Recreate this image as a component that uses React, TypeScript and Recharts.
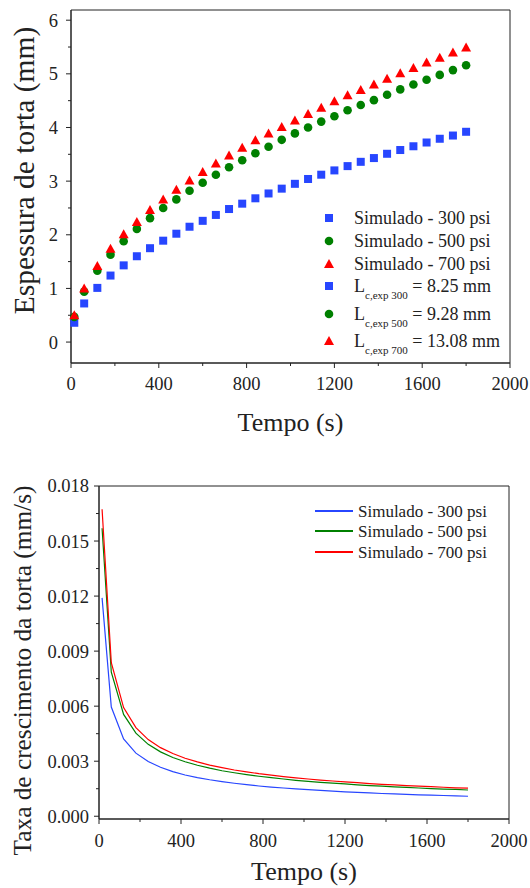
import React from "react";
import {
  ScatterChart,
  Scatter,
  LineChart,
  Line,
  XAxis,
  YAxis,
  ReferenceArea,
} from "recharts";

const FONT = "'Liberation Serif', 'Times New Roman', serif";
const INK = "#222";

// time (s) of every simulated point
const times = [
  15, 60, 120, 180, 240, 300, 360, 420, 480, 540, 600, 660, 720, 780, 840, 900,
  960, 1020, 1080, 1140, 1200, 1260, 1320, 1380, 1440, 1500, 1560, 1620, 1680,
  1740, 1800,
];

// cake thickness (mm)
const thick300 = [
  0.36, 0.72, 1.01, 1.24, 1.43, 1.6, 1.75, 1.89, 2.02, 2.15, 2.26, 2.37, 2.48,
  2.58, 2.68, 2.77, 2.86, 2.95, 3.04, 3.12, 3.2, 3.28, 3.36, 3.43, 3.51, 3.58,
  3.65, 3.72, 3.79, 3.85, 3.92,
];
const thick500 = [
  0.47, 0.94, 1.33, 1.63, 1.88, 2.11, 2.31, 2.5, 2.66, 2.82, 2.97, 3.12, 3.26,
  3.39, 3.52, 3.64, 3.77, 3.89, 4.0, 4.11, 4.21, 4.32, 4.42, 4.51, 4.61, 4.71,
  4.8, 4.89, 4.98, 5.07, 5.16,
];
const thick700 = [
  0.5, 1.0, 1.42, 1.74, 2.01, 2.24, 2.46, 2.66, 2.84, 3.01, 3.17, 3.33, 3.48,
  3.62, 3.76, 3.89, 4.01, 4.13, 4.25, 4.37, 4.49, 4.6, 4.7, 4.8, 4.91, 5.01,
  5.11, 5.21, 5.3, 5.4, 5.49,
];

// growth rate (mm/s)
const rate300 = [
  0.0119, 0.00595, 0.00421, 0.00344, 0.00298, 0.00267, 0.00243, 0.00225,
  0.00211, 0.00199, 0.00189, 0.0018, 0.00172, 0.00165, 0.00159, 0.00154,
  0.00149, 0.00145, 0.00141, 0.00137, 0.00133, 0.0013, 0.00127, 0.00124,
  0.00122, 0.00119, 0.00117, 0.00115, 0.00113, 0.00111, 0.00109,
];
const rate500 = [
  0.0157, 0.00785, 0.00555, 0.00453, 0.00392, 0.00351, 0.0032, 0.00297,
  0.00278, 0.00262, 0.00248, 0.00237, 0.00227, 0.00218, 0.0021, 0.00203,
  0.00196, 0.0019, 0.00185, 0.0018, 0.00176, 0.00171, 0.00167, 0.00164,
  0.0016, 0.00157, 0.00154, 0.00151, 0.00148, 0.00146, 0.00143,
];
const rate700 = [
  0.01673, 0.00837, 0.00592, 0.00483, 0.00418, 0.00374, 0.00342, 0.00316,
  0.00296, 0.00279, 0.00265, 0.00252, 0.00242, 0.00232, 0.00224, 0.00216,
  0.00209, 0.00203, 0.00197, 0.00192, 0.00187, 0.00183, 0.00178, 0.00174,
  0.00171, 0.00167, 0.00164, 0.00161, 0.00158, 0.00155, 0.00153,
];

const xMajor = [0, 400, 800, 1200, 1600, 2000];
const xMinor = [200, 600, 1000, 1400, 1800];
const yMajorTop = [0, 1, 2, 3, 4, 5, 6];
const yMinorTop = [0.5, 1.5, 2.5, 3.5, 4.5, 5.5];
const yMajorBot = [0, 0.003, 0.006, 0.009, 0.012, 0.015, 0.018];
const yMinorBot = [0.0015, 0.0045, 0.0075, 0.0105, 0.0135, 0.0165];

const BLUE = "#2746ff";
const GREEN = "#008000";
const RED = "#ff0000";

const pts = (vals: number[]) => times.map((t, i) => ({ t, v: vals[i] }));
const rateRows = times.map((t, i) => ({
  t,
  r300: rate300[i],
  r500: rate500[i],
  r700: rate700[i],
}));

const Square = ({ cx, cy }: any) => (
  <rect x={cx - 4} y={cy - 4} width={8} height={8} fill={BLUE} />
);
const Dot = ({ cx, cy }: any) => <circle cx={cx} cy={cy} r={4.3} fill={GREEN} />;
const Tri = ({ cx, cy }: any) => (
  <polygon
    points={`${cx},${cy - 5} ${cx + 5},${cy + 4} ${cx - 5},${cy + 4}`}
    fill={RED}
  />
);

function makeXTick(gap: number) {
  return ({ x, y, payload }: any) => {
    const major = xMajor.includes(payload.value);
    return (
      <g>
        <line x1={x} x2={x} y1={y} y2={y + (major ? 5 : 3)} stroke={INK} />
        {major && (
          <text
            x={x}
            y={y + gap}
            textAnchor="middle"
            dy="0.35em"
            fontSize={18.5}
            fontFamily={FONT}
            fill={INK}
          >
            {payload.value}
          </text>
        )}
      </g>
    );
  };
}

function makeYTick(majors: number[], fmt: (v: number) => string, gap: number) {
  return ({ x, y, payload }: any) => {
    const major = majors.some((m) => Math.abs(m - payload.value) < 1e-9);
    return (
      <g>
        <line x1={x} x2={x - (major ? 5 : 3)} y1={y} y2={y} stroke={INK} />
        {major && (
          <text
            x={x - gap}
            y={y}
            textAnchor="end"
            dy="0.35em"
            fontSize={18.5}
            fontFamily={FONT}
            fill={INK}
          >
            {fmt(payload.value)}
          </text>
        )}
      </g>
    );
  };
}

const Mark = ({ kind }: { kind: string }) => (
  <svg width={12} height={12} style={{ position: "absolute", left: -6, top: -6 }}>
    {kind === "sq" && <rect x={2} y={2} width={8} height={8} fill={BLUE} />}
    {kind === "ci" && <circle cx={6} cy={6} r={4.3} fill={GREEN} />}
    {kind === "tr" && <polygon points="6,1 11,10 1,10" fill={RED} />}
  </svg>
);

const topLegend = [
  { kind: "sq", y: 218, main: "Simulado - 300 psi" },
  { kind: "ci", y: 241, main: "Simulado - 500 psi" },
  { kind: "tr", y: 264, main: "Simulado - 700 psi" },
  { kind: "sq", y: 286, sub: "c,exp 300", rest: " = 8.25 mm" },
  { kind: "ci", y: 314, sub: "c,exp 500", rest: " = 9.28 mm" },
  { kind: "tr", y: 341, sub: "c,exp 700", rest: " = 13.08 mm" },
];

const botLegend = [
  { color: BLUE, y: 511, label: "Simulado - 300 psi" },
  { color: GREEN, y: 531, label: "Simulado - 500 psi" },
  { color: RED, y: 552, label: "Simulado - 700 psi" },
];

export default function App() {
  return (
    <div
      style={{
        position: "absolute",
        left: 0,
        top: 0,
        width: 530,
        height: 888,
        background: "#fff",
        fontFamily: FONT,
        color: INK,
      }}
    >
      <div style={{ position: "absolute", left: 0, top: 0 }}>
        <ScatterChart
          width={530}
          height={440}
          margin={{ top: 10, right: 20, left: 0, bottom: 0 }}
        >
          <XAxis
            type="number"
            dataKey="t"
            domain={[0, 2000]}
            ticks={[...xMajor, ...xMinor].sort((a, b) => a - b)}
            tickSize={0}
            tickMargin={0}
            tickLine={false}
            height={77}
            stroke={INK}
            tick={makeXTick(21)}
            label={{
              value: "Tempo (s)",
              position: "insideBottom",
              offset: 9,
              fontSize: 26,
              fontFamily: FONT,
              fill: INK,
            }}
          />
          <YAxis
            type="number"
            dataKey="v"
            domain={[-0.39, 6.19]}
            ticks={[...yMajorTop, ...yMinorTop].sort((a, b) => a - b)}
            tickSize={0}
            tickMargin={0}
            tickLine={false}
            width={71}
            stroke={INK}
            tick={makeYTick(yMajorTop, (v) => String(v), 13)}
            label={{
              value: "Espessura de torta (mm)",
              angle: -90,
              position: "insideLeft",
              offset: 24,
              dy: -16,
              fontSize: 29.5,
              fontFamily: FONT,
              fill: INK,
              style: { textAnchor: "middle" },
            }}
          />
          <ReferenceArea
            x1={0}
            x2={2000}
            y1={-0.39}
            y2={6.19}
            fill="none"
            stroke={INK}
            ifOverflow="visible"
          />
          <Scatter data={pts(thick300)} shape={Square} isAnimationActive={false} />
          <Scatter data={pts(thick500)} shape={Dot} isAnimationActive={false} />
          <Scatter data={pts(thick700)} shape={Tri} isAnimationActive={false} />
        </ScatterChart>
      </div>

      {topLegend.map((row, i) => (
        <div key={i}>
          <div style={{ position: "absolute", left: 329, top: row.y }}>
            <Mark kind={row.kind} />
          </div>
          <div
            style={{
              position: "absolute",
              left: 354,
              top: row.y - 9,
              fontSize: 18,
              lineHeight: "18px",
              whiteSpace: "nowrap",
            }}
          >
            {row.main ? (
              row.main
            ) : (
              <>
                L
                <span
                  style={{
                    fontSize: 11,
                    verticalAlign: -7,
                    lineHeight: 0,
                  }}
                >
                  {row.sub}
                </span>
                {row.rest}
              </>
            )}
          </div>
        </div>
      ))}

      <div style={{ position: "absolute", left: 0, top: 448 }}>
        <LineChart
          width={530}
          height={440}
          data={rateRows}
          margin={{ top: 38, right: 21, left: 0, bottom: 0 }}
        >
          <XAxis
            type="number"
            dataKey="t"
            domain={[0, 2000]}
            ticks={[...xMajor, ...xMinor].sort((a, b) => a - b)}
            tickSize={0}
            tickMargin={0}
            tickLine={false}
            height={69}
            stroke={INK}
            tick={makeXTick(22)}
            label={{
              value: "Tempo (s)",
              position: "insideBottom",
              offset: 8,
              fontSize: 26,
              fontFamily: FONT,
              fill: INK,
            }}
          />
          <YAxis
            type="number"
            domain={[-0.00015, 0.018]}
            ticks={[...yMajorBot, ...yMinorBot].sort((a, b) => a - b)}
            tickSize={0}
            tickMargin={0}
            tickLine={false}
            width={99}
            stroke={INK}
            tick={makeYTick(yMajorBot, (v) => v.toFixed(3), 10)}
            label={{
              value: "Taxa de crescimento da torta (mm/s)",
              angle: -90,
              position: "insideLeft",
              offset: 22,
              dy: 18,
              fontSize: 25.3,
              fontFamily: FONT,
              fill: INK,
              style: { textAnchor: "middle" },
            }}
          />
          <ReferenceArea
            x1={0}
            x2={2000}
            y1={-0.00015}
            y2={0.018}
            fill="none"
            stroke={INK}
            ifOverflow="visible"
          />
          <Line dataKey="r300" stroke={BLUE} strokeWidth={1.2} dot={false} isAnimationActive={false} />
          <Line dataKey="r500" stroke={GREEN} strokeWidth={1.2} dot={false} isAnimationActive={false} />
          <Line dataKey="r700" stroke={RED} strokeWidth={1.2} dot={false} isAnimationActive={false} />
        </LineChart>
      </div>

      {botLegend.map((row, i) => (
        <div key={i}>
          <div
            style={{
              position: "absolute",
              left: 315,
              top: row.y - 0.6,
              width: 38,
              height: 1.2,
              background: row.color,
            }}
          />
          <div
            style={{
              position: "absolute",
              left: 358,
              top: row.y - 8.5,
              fontSize: 17,
              lineHeight: "17px",
              whiteSpace: "nowrap",
            }}
          >
            {row.label}
          </div>
        </div>
      ))}
    </div>
  );
}
